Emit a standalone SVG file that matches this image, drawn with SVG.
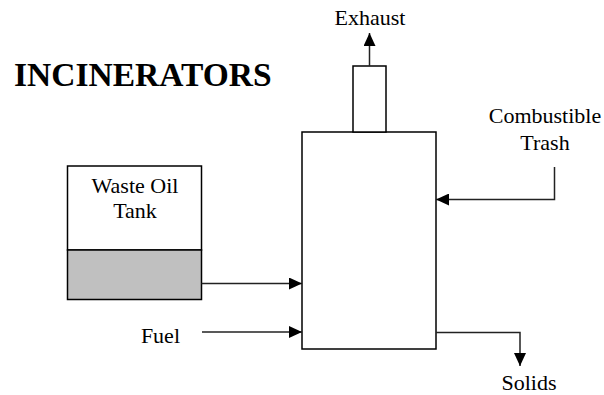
<svg xmlns="http://www.w3.org/2000/svg" width="604" height="395" viewBox="0 0 604 395">
<style>
.box{fill:#fff;stroke:#000;stroke-width:1.5}
.ln{fill:none;stroke:#222;stroke-width:1.5}
</style>
<defs>
<marker id="ah" viewBox="0 0 13 12" refX="13" refY="6" markerWidth="13" markerHeight="12" markerUnits="userSpaceOnUse" orient="auto">
<path d="M0,0 L13,6 L0,12 Z" fill="#000"/>
</marker>
</defs>
<rect width="604" height="395" fill="#fff"/>
<text x="14" y="86" font-family="'Liberation Serif','Times New Roman',serif" font-size="33.5" font-weight="bold">INCINERATORS</text>
<g id="incinerator">
<rect class="box" x="302" y="132" width="134" height="217"/>
</g>
<g id="chimney">
<rect class="box" x="353" y="66" width="33" height="66"/>
</g>
<g id="tank" font-family="'Liberation Serif','Times New Roman',serif" font-size="22" fill="#000">
<rect class="box" x="67.5" y="166" width="134" height="84"/>
<rect x="67.5" y="250" width="134" height="49.5" fill="#c0c0c0" stroke="#000" stroke-width="1.5"/>
<text x="135" y="193" text-anchor="middle">Waste Oil</text>
<text x="135" y="218" text-anchor="middle">Tank</text>
</g>
<g id="labels" font-family="'Liberation Serif','Times New Roman',serif" font-size="22" fill="#000">
<text x="370" y="25" text-anchor="middle">Exhaust</text>
<text x="545" y="123" text-anchor="middle">Combustible</text>
<text x="545" y="150" text-anchor="middle">Trash</text>
<text x="180" y="343" text-anchor="end">Fuel</text>
<text x="529" y="390" text-anchor="middle">Solids</text>
</g>
<g id="connectors">
<path class="ln" d="M369.5,66 V33" marker-end="url(#ah)"/>
<path class="ln" d="M201.5,283.5 H302" marker-end="url(#ah)"/>
<path class="ln" d="M202,332 H302" marker-end="url(#ah)"/>
<path class="ln" d="M554.5,167 V199.5 H436" marker-end="url(#ah)"/>
<path class="ln" d="M436,332.5 H520 V366" marker-end="url(#ah)"/>
</g>
</svg>
